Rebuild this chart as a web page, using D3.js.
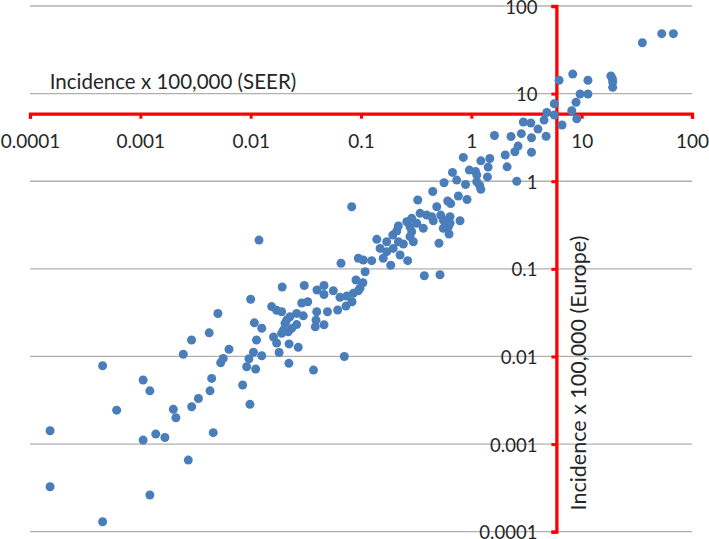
<!DOCTYPE html>
<html>
<head>
<meta charset="utf-8">
<script src="https://cdn.jsdelivr.net/npm/d3@7"></script>
<style>
  html, body { margin: 0; padding: 0; background: #ffffff; }
  svg { display: block; }
  text { font-family: Lato, "Open Sans", "Liberation Sans", sans-serif; fill: #262626; }
</style>
</head>
<body>
<svg id="chart" width="709" height="539"></svg>
<script>
// ---- Data (incidence x 100,000) ----
const seer = [
  53.2, 67.8, 35.5, 8.30, 6.24, 11.4, 18.4, 19.0, 19.1, 19.1,
  9.67, 11.4, 5.65, 8.89, 8.13, 4.83, 5.65, 9.03, 4.56, 6.64,
  2.96, 3.46, 4.02, 2.84, 1.62, 2.29, 3.51, 4.76, 2.65, 2.48,
  2.03, 3.51, 1.47, 1.22, 0.846, 2.11, 1.42, 0.959, 1.09, 1.40,
  2.58, 0.675, 1.12, 0.737, 0.566, 0.886, 1.12, 1.19, 1.22, 0.447,
  0.762, 0.914, 0.611, 0.650, 0.790, 0.327, 0.486, 0.0824, 0.343, 0.394,
  0.288, 0.260, 0.437, 0.528, 0.641, 0.452, 0.557, 0.641, 0.320, 0.218,
  0.278, 0.367, 0.557, 0.619, 0.211, 0.288, 0.194, 0.628, 0.278, 0.139,
  0.171, 0.218, 0.298, 0.242, 0.509, 0.149, 0.196, 0.171, 0.226, 0.159,
  0.265, 0.0945, 0.105, 0.125, 0.186, 0.0659, 0.375, 0.520, 0.0119, 0.109,
  0.0901, 0.104, 0.0979, 0.0945, 0.0851, 0.0742, 0.0829, 0.0731, 0.0615, 0.0645,
  0.0561, 0.0462, 0.0462, 0.0399, 0.0306, 0.0193, 0.0100, 0.0155, 0.0172, 0.0191,
  0.0290, 0.0329, 0.0300, 0.0397, 0.0497, 0.0227, 0.0261, 0.0212, 0.0261, 0.0205,
  0.0198, 0.0219, 0.0235, 0.0191, 0.0391, 0.0385, 0.0462, 0.0108, 0.0126, 0.0161,
  0.0113, 0.0172, 0.0223, 0.0270, 0.0181, 0.0106, 0.00965, 0.0126, 0.0706, 0.00636,
  0.00505, 0.00421, 0.00291, 0.00245, 0.00564, 0.00535, 0.00920, 0.0111, 0.0222, 0.0371,
  0.00106, 0.00443, 0.00122, 0.00846, 0.00428, 0.00336, 0.00985, 0.000455, 0.00292, 0.00199,
  0.00210, 0.000610, 0.000152, 0.00138, 0.00167, 0.00106, 0.00458, 0.00272, 0.000152, 0.00122,
  0.000455
];
const europe = [
  48.3, 48.3, 38.1, 16.7, 14.2, 14.2, 15.9, 14.8, 13.6, 11.8,
  9.9, 9.9, 7.67, 7.96, 6.38, 6.08, 5.70, 5.17, 4.99, 4.38,
  4.74, 4.62, 3.94, 3.49, 3.33, 3.24, 3.14, 3.26, 2.52, 2.17,
  1.99, 2.14, 1.82, 1.71, 1.87, 1.46, 1.45, 1.34, 1.29, 1.12,
  1.00, 1.26, 1.18, 1.03, 0.961, 0.917, 0.987, 0.893, 0.808, 0.763,
  0.678, 0.618, 0.594, 0.556, 0.354, 0.610, 0.512, 0.512, 0.430, 0.411,
  0.377, 0.345, 0.393, 0.411, 0.393, 0.354, 0.361, 0.331, 0.331, 0.308,
  0.302, 0.290, 0.290, 0.302, 0.270, 0.265, 0.243, 0.250, 0.233, 0.217,
  0.204, 0.204, 0.204, 0.192, 0.196, 0.171, 0.171, 0.157, 0.144, 0.132,
  0.124, 0.132, 0.126, 0.124, 0.110, 0.116, 0.0834, 0.0856, 0.213, 0.0927,
  0.0745, 0.0694, 0.0599, 0.0562, 0.0525, 0.0489, 0.0421, 0.0376, 0.0339, 0.0473,
  0.0562, 0.0645, 0.0509, 0.0573, 0.0645, 0.0620, 0.0450, 0.0371, 0.0336, 0.0324,
  0.0407, 0.0421, 0.0291, 0.0324, 0.0324, 0.0284, 0.0310, 0.0260, 0.0231, 0.0239,
  0.0200, 0.0191, 0.0209, 0.0184, 0.0260, 0.0218, 0.0230, 0.0242, 0.0210, 0.0167,
  0.0154, 0.0142, 0.0139, 0.0127, 0.0111, 0.0112, 0.00941, 0.0102, 0.0100, 0.0121,
  0.0309, 0.0186, 0.0154, 0.0106, 0.00951, 0.00847, 0.00763, 0.00718, 0.00834, 0.00699,
  0.00538, 0.00562, 0.00405, 0.00472, 0.00405, 0.00331, 0.00284, 0.00783, 0.00267, 0.00249,
  0.00200, 0.00244, 0.00142, 0.00130, 0.00119, 0.00111, 0.00135, 0.000657, 0.000326, 0.000262,
  0.000130
];
const tickValues = [0.0001, 0.001, 0.01, 0.1, 1, 10, 100];
const tickLabels = ["0.0001", "0.001", "0.01", "0.1", "1", "10", "100"];
const xTitle = "Incidence x 100,000 (SEER)";
const yTitle = "Incidence x 100,000 (Europe)";
const axisCross = 5.9; // both axes cross near this value

// ---- Layout ----
const svg = d3.select("#chart");
const x = d3.scaleLog().domain([0.0001, 100]).range([30, 692]);
const y = d3.scaleLog().domain([0.0001, 100]).range([531.7, 6]);
const RED = "#ff0000";
const fmt = (d) => tickLabels[tickValues.indexOf(d)];

// gridlines (horizontal only)
svg.append("g").selectAll("line").data(tickValues).join("line")
  .attr("x1", x.range()[0]).attr("x2", x.range()[1])
  .attr("y1", d => y(d)).attr("y2", d => y(d))
  .attr("stroke", "#b0b0b0").attr("stroke-width", 1.3);

// X axis (horizontal red line crossing at axisCross on the y scale)
const xAxis = d3.axisBottom(x).tickValues(tickValues).tickFormat(fmt)
  .tickSize(5).tickSizeOuter(5).tickPadding(16);
const gx = svg.append("g").attr("transform", `translate(0,${y(axisCross)})`).call(xAxis);
gx.select(".domain").attr("stroke", RED).attr("stroke-width", 3.3).attr("fill", "none");
gx.selectAll(".tick line").attr("stroke", RED).attr("stroke-width", 3);
gx.selectAll(".tick text").attr("font-size", 19).attr("fill", "#262626")
  .style("font-family", "Lato, 'Open Sans', sans-serif");

// Y axis (vertical red line crossing at axisCross on the x scale)
const yAxis = d3.axisLeft(y).tickValues(tickValues).tickFormat(fmt)
  .tickSize(5).tickSizeOuter(5).tickPadding(14);
const gy = svg.append("g").attr("transform", `translate(${x(axisCross)},0)`).call(yAxis);
gy.select(".domain").attr("stroke", RED).attr("stroke-width", 3.3).attr("fill", "none");
gy.selectAll(".tick line").attr("stroke", RED).attr("stroke-width", 3);
gy.selectAll(".tick text").attr("font-size", 18.5).attr("dy", "0.38em").attr("fill", "#262626")
  .style("font-family", "Lato, 'Open Sans', sans-serif");

// Axis titles
svg.append("text")
  .attr("x", 173).attr("y", y(axisCross) - 25)
  .attr("text-anchor", "middle").attr("font-size", 20.5)
  .text(xTitle);
svg.append("text")
  .attr("transform", `translate(${x(axisCross) + 30},373) rotate(-90)`)
  .attr("text-anchor", "middle").attr("font-size", 21.5)
  .text(yTitle);

// Points
svg.append("g").selectAll("circle").data(seer.map((v, i) => [v, europe[i]])).join("circle")
  .attr("cx", d => x(d[0])).attr("cy", d => y(d[1])).attr("r", 4.5)
  .attr("fill", "#4a7ebb");
</script>
</body>
</html>
